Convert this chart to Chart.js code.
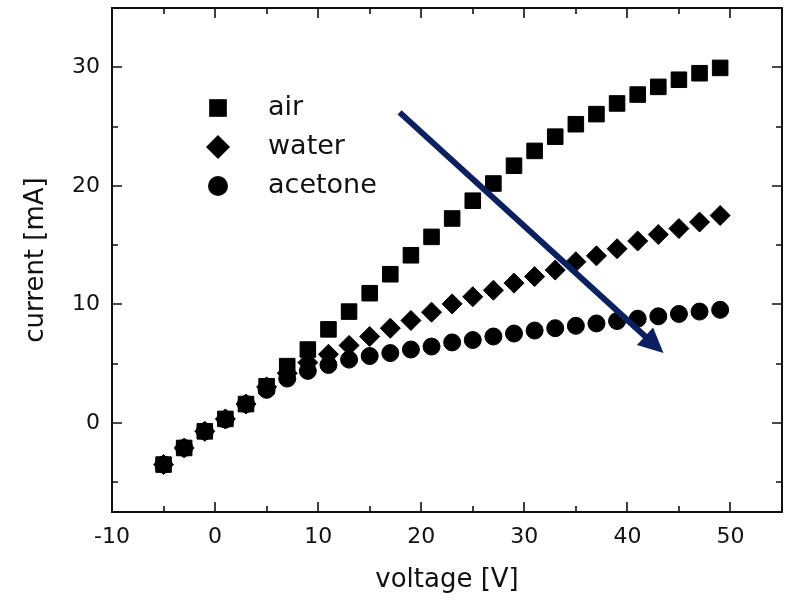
<!DOCTYPE html>
<html>
<head>
<meta charset="utf-8">
<script src="https://cdn.jsdelivr.net/npm/chart.js@4.4.1/dist/chart.umd.min.js"></script>
<style>
  html, body { margin: 0; padding: 0; background: #fff; }
  #wrap { width: 788px; height: 604px; }
</style>
</head>
<body>
<div id="wrap"><canvas id="ivChart"></canvas></div>
<script>
// I-V curves: current vs applied voltage in three media

const voltage = [-5, -3, -1, 1, 3, 5, 7, 9, 11, 13, 15, 17, 19, 21, 23, 25, 27, 29, 31, 33, 35, 37, 39, 41, 43, 45, 47, 49];
const currentAir = [-3.5, -2.1, -0.7, 0.35, 1.6, 3.1, 4.8, 6.2, 7.9, 9.4, 10.95, 12.55, 14.15, 15.7, 17.25, 18.75, 20.2, 21.7, 22.95, 24.15, 25.2, 26.05, 26.95, 27.7, 28.35, 28.95, 29.5, 29.95];
const currentWater = [-3.5, -2.1, -0.7, 0.35, 1.6, 3.05, 4.2, 5.1, 5.8, 6.55, 7.3, 8.0, 8.65, 9.35, 10.05, 10.65, 11.2, 11.8, 12.35, 12.9, 13.6, 14.1, 14.7, 15.35, 15.9, 16.4, 16.95, 17.5];
const currentAcetone = [-3.5, -2.1, -0.7, 0.3, 1.6, 2.8, 3.75, 4.4, 4.9, 5.35, 5.65, 5.9, 6.2, 6.45, 6.8, 7.0, 7.3, 7.55, 7.8, 8.0, 8.2, 8.4, 8.6, 8.8, 9.0, 9.2, 9.4, 9.55];

const seriesLabels = ['air', 'water', 'acetone'];
const xTickLabels = [-10, 0, 10, 20, 30, 40, 50];
const xMinorTicks = [-5, 5, 15, 25, 35, 45];
const yTickLabels = [0, 10, 20, 30];
const yMinorTicks = [-5, 5, 15, 25];

// arrow annotation, in data units [voltage, current]
const arrowFrom = [17.9, 26.2];
const arrowTo = [43.5, 5.9];

const FONT = '"DejaVu Sans", sans-serif';
Chart.defaults.font.family = FONT;
Chart.defaults.color = '#111';

const toPoints = ys => voltage.map((v, i) => ({ x: v, y: ys[i] }));

// box frame with inward ticks on all four sides
const framePlugin = {
    id: 'frame',
    afterDatasetsDraw(chart) {
        const { ctx, chartArea: a, scales: { x, y } } = chart;
        ctx.save();
        ctx.strokeStyle = '#111';
        ctx.lineWidth = 2;
        ctx.strokeRect(a.left, a.top, a.right - a.left, a.bottom - a.top);
        ctx.lineWidth = 1.6;
        ctx.beginPath();
        const xTick = (v, len) => {
            const px = Math.round(x.getPixelForValue(v));
            ctx.moveTo(px, a.bottom); ctx.lineTo(px, a.bottom - len);
            ctx.moveTo(px, a.top); ctx.lineTo(px, a.top + len);
        };
        const yTick = (v, len) => {
            const py = Math.round(y.getPixelForValue(v));
            ctx.moveTo(a.left, py); ctx.lineTo(a.left + len, py);
            ctx.moveTo(a.right, py); ctx.lineTo(a.right - len, py);
        };
        xTickLabels.forEach(v => xTick(v, 10));
        xMinorTicks.forEach(v => xTick(v, 6));
        yTickLabels.forEach(v => yTick(v, 10));
        yMinorTicks.forEach(v => yTick(v, 6));
        ctx.stroke();
        ctx.restore();
    }
};

const arrowPlugin = {
    id: 'arrow',
    afterDatasetsDraw(chart) {
        const { ctx, scales: { x, y } } = chart;
        const x0 = x.getPixelForValue(arrowFrom[0]), y0 = y.getPixelForValue(arrowFrom[1]);
        const x1 = x.getPixelForValue(arrowTo[0]), y1 = y.getPixelForValue(arrowTo[1]);
        const ang = Math.atan2(y1 - y0, x1 - x0);
        const headLen = 25, headHalf = 12;
        const bx = x1 - headLen * Math.cos(ang), by = y1 - headLen * Math.sin(ang);
        ctx.save();
        ctx.strokeStyle = '#0c1f5e';
        ctx.fillStyle = '#0c1f5e';
        ctx.lineWidth = 6;
        ctx.beginPath();
        ctx.moveTo(x0, y0);
        ctx.lineTo(bx + 2 * Math.cos(ang), by + 2 * Math.sin(ang));
        ctx.stroke();
        ctx.beginPath();
        ctx.moveTo(x1, y1);
        ctx.lineTo(bx + headHalf * Math.sin(ang), by - headHalf * Math.cos(ang));
        ctx.lineTo(bx - headHalf * Math.sin(ang), by + headHalf * Math.cos(ang));
        ctx.closePath();
        ctx.fill();
        ctx.restore();
    }
};

// legend drawn inside the plot, top left
const legendPlugin = {
    id: 'insideLegend',
    afterDraw(chart) {
        const { ctx } = chart;
        const left = 218, top = 108, rowGap = 39;
        const sizes = [12.5, 12, 10];
        ctx.save();
        ctx.font = '27px ' + FONT;
        ctx.textBaseline = 'middle';
        chart.data.datasets.forEach((ds, i) => {
            const cy = top + i * rowGap;
            ctx.fillStyle = '#000';
            ctx.strokeStyle = '#000';
            Chart.helpers.drawPoint(ctx, { pointStyle: ds.pointStyle, radius: sizes[i], rotation: 0, borderWidth: 0 }, left, cy);
            ctx.fillStyle = '#111';
            ctx.fillText(ds.label, left + 50, cy);
        });
        ctx.restore();
    }
};

const makeSet = (i, ys, style, radius) => ({
    label: seriesLabels[i],
    data: toPoints(ys),
    pointStyle: style,
    pointRadius: radius,
    pointBackgroundColor: '#000',
    pointBorderColor: '#000',
    pointBorderWidth: 1,
    showLine: false
});

new Chart(document.getElementById('ivChart'), {
    type: 'scatter',
    data: {
        datasets: [
            makeSet(0, currentAir, 'rect', 11),
            makeSet(1, currentWater, 'rectRot', 10),
            makeSet(2, currentAcetone, 'circle', 8.5)
        ]
    },
    options: {
        responsive: true,
        maintainAspectRatio: false,
        animation: false,
        layout: { autoPadding: false, padding: { top: 8, right: 6, left: 0, bottom: 0 } },
        plugins: {
            legend: { display: false },
            tooltip: { enabled: false }
        },
        scales: {
            x: {
                type: 'linear',
                min: -10,
                max: 55,
                afterBuildTicks: s => { s.ticks = xTickLabels.map(v => ({ value: v })); },
                afterFit: s => { s.height = 92; s.paddingLeft = 0; s.paddingRight = 0; },
                grid: { display: false, drawTicks: false },
                border: { display: false },
                ticks: { color: '#111', font: { size: 22 }, padding: 12, maxRotation: 0, autoSkip: false },
                title: { display: true, text: 'voltage [V]', color: '#111', font: { size: 26 }, padding: { top: 0, bottom: 8 } }
            },
            y: {
                type: 'linear',
                min: -7.5,
                max: 35,
                afterBuildTicks: s => { s.ticks = yTickLabels.map(v => ({ value: v })); },
                afterFit: s => { s.width = 112; s.paddingTop = 0; s.paddingBottom = 0; },
                grid: { display: false, drawTicks: false },
                border: { display: false },
                ticks: { color: '#111', font: { size: 22 }, padding: 12, autoSkip: false },
                title: { display: true, text: 'current [mA]', color: '#111', font: { size: 26 }, padding: { top: 21, bottom: 0 } }
            }
        }
    },
    plugins: [framePlugin, arrowPlugin, legendPlugin]
});
</script>
</body>
</html>
